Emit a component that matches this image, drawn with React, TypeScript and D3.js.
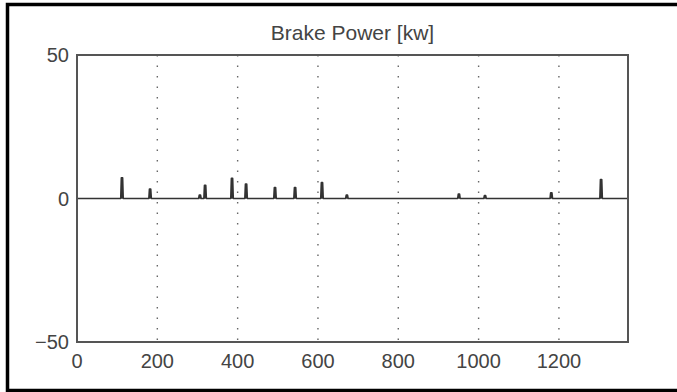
import React, { useEffect, useRef } from 'react';
import * as d3 from 'd3';

// spike events: time [s] and peak brake power [kw]
const spikeTimes = [112, 182, 306, 319, 386, 421, 493, 543, 610, 672, 951, 1016, 1181, 1305];
const spikePeaks = [7.2, 3.3, 1.2, 4.6, 7.0, 5.0, 3.8, 3.8, 5.5, 1.2, 1.5, 1.0, 2.0, 6.6];
const xTicks = [0, 200, 400, 600, 800, 1000, 1200];
const yTicks = [-50, 0, 50];
const xMax = 1372;

const W = 677;
const H = 392;
const margin = { top: 55, right: 49, bottom: 50, left: 77 };
const font = '"Liberation Sans", Arial, sans-serif';
const ink = '#444';

const App = () => {
    const ref = useRef<SVGSVGElement>(null);

    useEffect(() => {
        const svg = d3.select(ref.current);
        svg.selectAll('*').remove();

        const x = d3.scaleLinear().domain([0, xMax]).range([margin.left, W - margin.right]);
        const y = d3.scaleLinear().domain([-50, 50]).range([H - margin.bottom, margin.top]);

        // outer frame of the scanned figure (right side is cut off)
        svg.append('path')
            .attr('d', `M${W + 5},4.5 H7.5 V${H - 1.5} H${W + 5}`)
            .attr('fill', 'none').attr('stroke', '#000').attr('stroke-width', 3.5);

        // dotted grid
        svg.append('g').selectAll('line')
            .data(xTicks.slice(1))
            .enter().append('line')
            .attr('x1', d => x(d)).attr('x2', d => x(d))
            .attr('y1', y(50)).attr('y2', y(-50))
            .attr('stroke', '#666').attr('stroke-width', 1.4)
            .attr('stroke-dasharray', '1.5,9');

        // zero line plus spikes as one trace
        const pts: [number, number][] = [[0, 0]];
        spikeTimes.forEach((t, i) => {
            pts.push([t - 3, 0], [t - 1.5, spikePeaks[i]], [t + 1.5, spikePeaks[i]], [t + 3, 0]);
        });
        pts.push([xMax, 0]);
        const line = d3.line<[number, number]>().x(d => x(d[0])).y(d => y(d[1]));
        svg.append('path')
            .attr('d', line(pts))
            .attr('fill', '#333')
            .attr('stroke', '#333').attr('stroke-width', 1.7)
            .attr('stroke-linejoin', 'round');

        // axes box
        svg.append('rect')
            .attr('x', x(0)).attr('y', y(50))
            .attr('width', x(xMax) - x(0)).attr('height', y(-50) - y(50))
            .attr('fill', 'none').attr('stroke', '#555').attr('stroke-width', 2);

        // tick labels
        svg.append('g').selectAll('text')
            .data(xTicks)
            .enter().append('text')
            .attr('x', d => x(d)).attr('y', y(-50) + 26)
            .attr('text-anchor', 'middle')
            .attr('font-family', font).attr('font-size', 20).attr('fill', ink)
            .text(d => d);

        svg.append('g').selectAll('text')
            .data(yTicks)
            .enter().append('text')
            .attr('x', x(0) - 8).attr('y', d => y(d) + 7)
            .attr('text-anchor', 'end')
            .attr('font-family', font).attr('font-size', 20).attr('fill', ink)
            .text(d => (d < 0 ? '\u2212' + Math.abs(d) : d));

        svg.append('text')
            .attr('x', (x(0) + x(xMax)) / 2).attr('y', 40)
            .attr('text-anchor', 'middle')
            .attr('font-family', font).attr('font-size', 21).attr('fill', ink)
            .text('Brake Power [kw]');
    }, []);

    return (
        <svg ref={ref} width={W} height={H} style={{ position: 'absolute', left: 0, top: 0, background: '#fff', overflow: 'hidden' }}></svg>
    );
};

export default App;
